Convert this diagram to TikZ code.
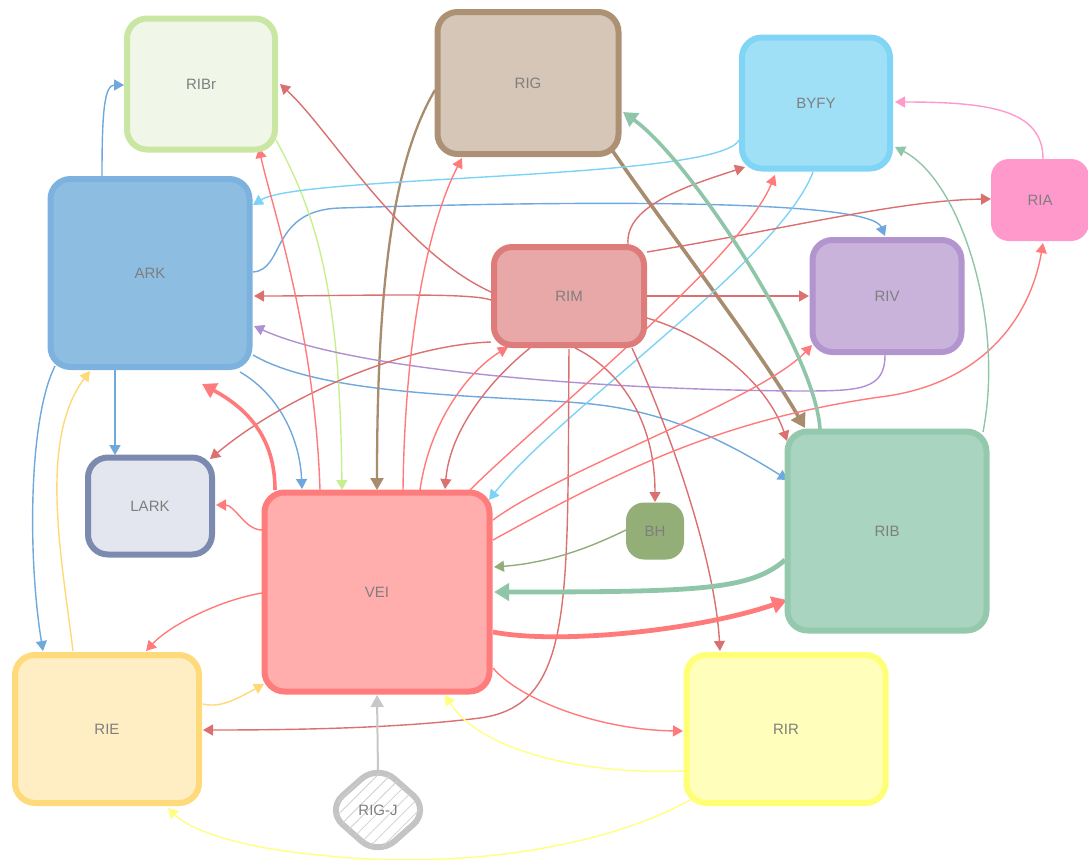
\documentclass[tikz,border=0pt]{standalone}
\usepackage{fontspec}
\setmainfont{Liberation Sans}
\usetikzlibrary{arrows.meta,shapes.geometric,patterns.meta}
\pgfdeclarelayer{bg}
\pgfsetlayers{bg,main}

\definecolor{ribrF}{HTML}{F0F6E8}\definecolor{ribrD}{HTML}{C9E7A3}\definecolor{ribrE}{HTML}{C6F08F}
\definecolor{rigF}{HTML}{D5C6B7}\definecolor{rigD}{HTML}{AD9174}\definecolor{rigE}{HTML}{A88C6E}
\definecolor{byfyF}{HTML}{A0E0F7}\definecolor{byfyD}{HTML}{80D4F6}\definecolor{byfyE}{HTML}{7DD3F5}
\definecolor{riaF}{HTML}{FF99CC}\definecolor{riaE}{HTML}{FF99CC}
\definecolor{arkF}{HTML}{8EBDE2}\definecolor{arkD}{HTML}{7DB2DE}\definecolor{arkE}{HTML}{6FA8DC}
\definecolor{rimF}{HTML}{E8A8A8}\definecolor{rimD}{HTML}{DE7C7C}\definecolor{rimE}{HTML}{DB7070}
\definecolor{rivF}{HTML}{C9B3DA}\definecolor{rivD}{HTML}{B294CF}\definecolor{rivE}{HTML}{B08FD2}
\definecolor{larkF}{HTML}{E3E6EE}\definecolor{larkD}{HTML}{7B8AAE}
\definecolor{veiF}{HTML}{FFADAD}\definecolor{veiD}{HTML}{FF7C7C}\definecolor{veiE}{HTML}{FF7B7B}
\definecolor{bhF}{HTML}{94AE78}\definecolor{bhE}{HTML}{93AD78}
\definecolor{ribF}{HTML}{A9D4BF}\definecolor{ribD}{HTML}{95C9AE}\definecolor{ribE}{HTML}{8FC5A8}
\definecolor{rieF}{HTML}{FFEEC4}\definecolor{rieD}{HTML}{FFDA7A}\definecolor{rieE}{HTML}{FFD978}
\definecolor{rirF}{HTML}{FFFFBB}\definecolor{rirD}{HTML}{FFFF77}\definecolor{rirE}{HTML}{FFFF80}
\definecolor{rigjD}{HTML}{C4C4C4}\definecolor{rigjE}{HTML}{C8C8C8}\definecolor{hatch}{HTML}{D0D0D0}
\definecolor{labelgray}{HTML}{7F7F7F}

\tikzset{
  box/.style={rounded corners=20pt, line width=6pt, inner sep=0pt,
    font=\fontsize{15}{17}\selectfont, text=labelgray},
  flat/.style={rounded corners=18pt, inner sep=0pt,
    font=\fontsize{15}{17}\selectfont, text=labelgray},
  e/.style={-{Triangle[length=10pt,width=11pt]}, line width=1.4pt},
  em/.style={-{Triangle[length=12pt,width=13pt]}, line width=2.3pt},
  et/.style={-{Triangle[length=14pt,width=16pt]}, line width=3.6pt},
  eh/.style={-{Triangle[length=15pt,width=17pt]}, line width=4.8pt},
}

\begin{document}
\begin{tikzpicture}[x=1pt,y=-1pt]
\useasboundingbox (0,0) rectangle (1088,860);

% nodes
\node[box, draw=ribrD, fill=ribrF, minimum width=148pt, minimum height=131pt] (RIBr) at (201,84) {RIBr};
\node[box, draw=rigD, fill=rigF, minimum width=181pt, minimum height=142pt] (RIG) at (528,83) {RIG};
\node[box, draw=byfyD, fill=byfyF, minimum width=148pt, minimum height=131pt] (BYFY) at (816,103) {BYFY};
\node[flat, fill=riaF, minimum width=98pt, minimum height=82pt] (RIA) at (1040,200) {RIA};
\node[box, draw=arkD, fill=arkF, minimum width=199pt, minimum height=188pt] (ARK) at (150,273) {ARK};
\node[box, draw=rimD, fill=rimF, rounded corners=18pt, minimum width=150pt, minimum height=98pt] (RIM) at (569,296) {RIM};
\node[box, draw=rivD, fill=rivF, minimum width=149pt, minimum height=112pt] (RIV) at (887,296) {RIV};
\node[box, draw=larkD, fill=larkF, minimum width=124pt, minimum height=97pt] (LARK) at (150,506) {LARK};
\node[box, draw=veiD, fill=veiF, minimum width=225pt, minimum height=199pt] (VEI) at (377,592) {VEI};
\node[flat, fill=bhF, minimum width=58pt, minimum height=57pt] (BH) at (655,531) {BH};
\node[box, draw=ribD, fill=ribF, minimum width=199pt, minimum height=199pt] (RIB) at (887,531) {RIB};
\node[box, draw=rieD, fill=rieF, minimum width=184pt, minimum height=148pt] (RIE) at (107,729) {RIE};
\node[box, draw=rirD, fill=rirF, minimum width=199pt, minimum height=148pt] (RIR) at (786,729) {RIR};
\node[diamond, draw=rigjD, line width=6pt, rounded corners=22pt, inner sep=0pt,
  minimum width=106pt, minimum height=94pt, fill=white,
  postaction={pattern={Lines[angle=45,distance=9pt,line width=0.8pt]}, pattern color=hatch},
  font=\fontsize{15}{17}\selectfont, text=labelgray] (RIGJ) at (378,810) {RIG-J};

\begin{pgfonlayer}{bg}
% ARK
\draw[e, arkE] ([shift={(-48,-97)}]ARK.center) .. controls (102,115) and (104,85) .. ([shift={(-77,1)}]RIBr.center);
\draw[e, arkE] ([shift={(103,-1)}]ARK.center) .. controls (285,270) and (270,210) .. (340,208) .. controls (600,200) and (870,200) .. ([shift={(-2,-60)}]RIV.center);
\draw[e, arkE] ([shift={(103,82)}]ARK.center) .. controls (330,400) and (520,395) .. (600,405) .. controls (680,415) and (740,450) .. ([shift={(-99,-51)}]RIB.center);
\draw[e, arkE] ([shift={(-35,97)}]ARK.center) -- ([shift={(-35,-51)}]LARK.center);
\draw[e, arkE] ([shift={(90,99)}]ARK.center) .. controls (280,395) and (300,440) .. ([shift={(-75,-103)}]VEI.center);
\draw[e, arkE] ([shift={(-95,93)}]ARK.center) .. controls (28,420) and (28,560) .. ([shift={(-64,-78)}]RIE.center);

% RIBr, RIG
\draw[e, ribrE] ([shift={(75,56)}]RIBr.center) .. controls (320,220) and (340,300) .. ([shift={(-35,-102)}]VEI.center);
\draw[em, rigE] ([shift={(-93,7)}]RIG.center) .. controls (400,150) and (377,250) .. ([shift={(0,-102)}]VEI.center);
\draw[et, rigE] ([shift={(84,67)}]RIG.center) .. controls (660,220) and (760,350) .. ([shift={(-82,-103)}]RIB.center);

% BYFY, RIA, RIV
\draw[e, byfyE] ([shift={(-77,37)}]BYFY.center) .. controls (720,180) and (300,175) .. ([shift={(103,-68)}]ARK.center);
\draw[e, byfyE] ([shift={(-3,69)}]BYFY.center) .. controls (780,260) and (560,410) .. ([shift={(112,-92)}]VEI.center);
\draw[e, riaE] ([shift={(3,-41)}]RIA.center) .. controls (1043,110) and (990,102) .. ([shift={(79,-1)}]BYFY.center);
\draw[e, rivE] ([shift={(-2,59)}]RIV.center) .. controls (885,390) and (860,391) .. (800,391) .. controls (600,390) and (350,370) .. ([shift={(104,53)}]ARK.center);

% RIM
\draw[e, rimE] ([shift={(-78,-4)}]RIM.center) .. controls (400,250) and (330,130) .. ([shift={(79,0)}]RIBr.center);
\draw[e, rimE] ([shift={(59,-52)}]RIM.center) .. controls (625,205) and (690,185) .. ([shift={(-71,64)}]BYFY.center);
\draw[e, rimE] ([shift={(78,-44)}]RIM.center) .. controls (780,230) and (900,200) .. ([shift={(-49,-1)}]RIA.center);
\draw[e, rimE] ([shift={(78,0)}]RIM.center) -- ([shift={(-78,0)}]RIV.center);
\draw[e, rimE] ([shift={(-78,4)}]RIM.center) .. controls (470,292) and (350,296) .. ([shift={(104,23)}]ARK.center);
\draw[e, rimE] ([shift={(-78,46)}]RIM.center) .. controls (400,345) and (280,400) .. ([shift={(60,-47)}]LARK.center);
\draw[e, rimE] ([shift={(-39,52)}]RIM.center) .. controls (490,380) and (450,430) .. ([shift={(68,-103)}]VEI.center);
\draw[e, rimE] ([shift={(0,53)}]RIM.center) .. controls (567,600) and (575,705) .. (480,718) .. controls (400,728) and (300,730) .. ([shift={(96,1)}]RIE.center);
\draw[e, rimE] ([shift={(6,52)}]RIM.center) .. controls (620,370) and (655,420) .. ([shift={(0,-29)}]BH.center);
\draw[e, rimE] ([shift={(63,52)}]RIM.center) .. controls (670,430) and (715,560) .. ([shift={(-66,-78)}]RIR.center);
\draw[e, rimE] ([shift={(78,22)}]RIM.center) .. controls (720,340) and (770,390) .. ([shift={(-100,-90)}]RIB.center);

% VEI
\draw[e, veiE] ([shift={(-57,-102)}]VEI.center) .. controls (315,330) and (270,200) .. ([shift={(58,64)}]RIBr.center);
\draw[e, veiE] ([shift={(26,-102)}]VEI.center) .. controls (405,330) and (430,220) .. ([shift={(-66,75)}]RIG.center);
\draw[e, veiE] ([shift={(93,-102)}]VEI.center) .. controls (540,420) and (740,260) .. ([shift={(-41,72)}]BYFY.center);
\draw[e, veiE] ([shift={(116,-72)}]VEI.center) .. controls (560,470) and (760,400) .. ([shift={(-75,49)}]RIV.center);
\draw[e, veiE] ([shift={(116,-52)}]VEI.center) .. controls (620,470) and (720,420) .. (880,397) .. controls (980,385) and (1030,320) .. ([shift={(3,43)}]RIA.center);
\draw[e, veiE] ([shift={(43,-102)}]VEI.center) .. controls (430,420) and (470,370) .. ([shift={(-61,51)}]RIM.center);
\draw[et, veiE] ([shift={(-102,-102)}]VEI.center) .. controls (275,440) and (250,410) .. ([shift={(52,111)}]ARK.center);
\draw[e, veiE] ([shift={(-115,-62)}]VEI.center) .. controls (245,530) and (235,505) .. ([shift={(66,-1)}]LARK.center);
\draw[e, veiE] ([shift={(-115,1)}]VEI.center) .. controls (220,600) and (170,625) .. ([shift={(39,-78)}]RIE.center);
\draw[e, veiE] ([shift={(116,76)}]VEI.center) .. controls (520,700) and (600,730) .. ([shift={(-103,2)}]RIR.center);
\draw[eh, veiE] ([shift={(116,40)}]VEI.center) .. controls (560,645) and (700,630) .. ([shift={(-100,69)}]RIB.center);

% RIB, BH
\draw[et, ribE] ([shift={(-67,-102)}]RIB.center) .. controls (815,350) and (690,160) .. ([shift={(95,29)}]RIG.center);
\draw[e, ribE] ([shift={(96,-99)}]RIB.center) .. controls (1005,320) and (960,180) .. ([shift={(79,44)}]BYFY.center);
\draw[eh, ribE] ([shift={(-102,29)}]RIB.center) .. controls (750,590) and (700,592) .. ([shift={(117,0)}]VEI.center);
\draw[e, bhE] ([shift={(-29,-1)}]BH.center) .. controls (605,540) and (560,562) .. ([shift={(117,-25)}]VEI.center);

% RIE, RIR, RIG-J
\draw[e, rieE] ([shift={(-34,-78)}]RIE.center) .. controls (62,560) and (38,440) .. ([shift={(-60,98)}]ARK.center);
\draw[e, rieE] ([shift={(96,-25)}]RIE.center) .. controls (220,708) and (235,700) .. ([shift={(-113,92)}]VEI.center);
\draw[e, rirE] ([shift={(-102,42)}]RIR.center) .. controls (580,775) and (480,750) .. ([shift={(68,103)}]VEI.center);
\draw[e, rirE] ([shift={(-96,71)}]RIR.center) .. controls (600,850) and (450,870) .. (320,855) .. controls (240,848) and (190,830) .. ([shift={(61,79)}]RIE.center);
\draw[em, rigjE, line width=2pt] ([yshift=-12pt]RIGJ.north) -- ([shift={(0,103)}]VEI.center);
\end{pgfonlayer}
\end{tikzpicture}
\end{document}
